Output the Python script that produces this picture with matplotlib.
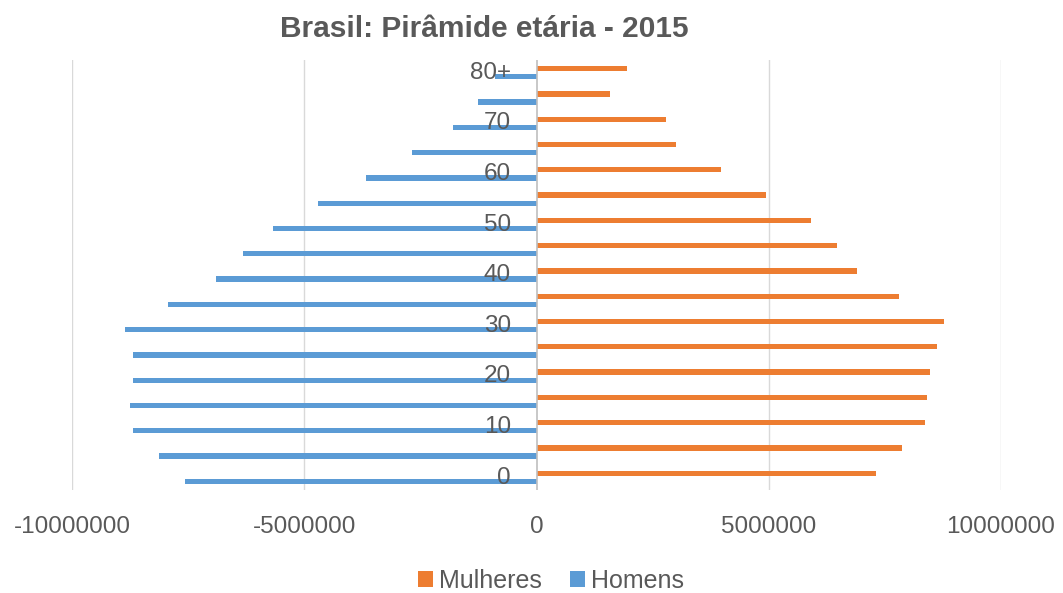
import matplotlib
matplotlib.use("Agg")
import matplotlib.pyplot as plt
import numpy as np

ages = ["0", "5", "10", "15", "20", "25", "30", "35", "40", "45", "50", "55", "60", "65", "70", "75", "80+"]
mulheres = [7.30e6, 7.86e6, 8.36e6, 8.40e6, 8.47e6, 8.62e6, 8.77e6, 7.80e6, 6.91e6, 6.48e6,
            5.92e6, 4.95e6, 3.97e6, 3.00e6, 2.79e6, 1.58e6, 1.94e6]
homens = [-7.56e6, -8.12e6, -8.68e6, -8.75e6, -8.68e6, -8.68e6, -8.86e6, -7.93e6, -6.91e6, -6.31e6,
          -5.68e6, -4.71e6, -3.67e6, -2.68e6, -1.79e6, -1.25e6, -0.89e6]
shown_labels = ["0", "10", "20", "30", "40", "50", "60", "70", "80+"]
xticks = [-10000000, -5000000, 0, 5000000, 10000000]

plt.rcParams['font.family'] = ['Liberation Sans', 'DejaVu Sans']
grey = "#595959"

fig = plt.figure(figsize=(10.63, 5.93), dpi=100)
ax = fig.add_axes([72/1063, 1-490/593, (1001-72)/1063, 430/593])

y = np.arange(len(ages))
ax.barh(y + 0.16, mulheres, height=0.21, color="#ED7D31", label="Mulheres", zorder=3)
ax.barh(y - 0.16, homens, height=0.21, color="#5B9BD5", label="Homens", zorder=3)

ax.set_xlim(-10000000, 10000000)
ax.set_ylim(-0.5, len(ages) - 0.5)
ax.set_xticks(xticks)
ax.set_xticklabels([str(v) for v in xticks], fontsize=17.5, color=grey)
ax.tick_params(axis='x', length=0, pad=19)
ax.set_yticks([])
for i, a in enumerate(ages):
    if a in shown_labels:
        ax.text(-0.55e6, i - 0.01, a, ha='right', va='center', fontsize=17.5, color=grey, zorder=5)

for v in xticks:
    if v != 0:
        ax.axvline(v, color="#d9d9d9", lw=1, zorder=0)
ax.axvline(0, color="#bfbfbf", lw=1.2, zorder=4)
for s in ax.spines.values():
    s.set_visible(False)

fig.text(484/1063, 1-29/593, "Brasil: Pirâmide etária - 2015", fontsize=21.5, fontweight='bold',
         color=grey, ha='center', va='center')
leg = fig.legend(loc='center', bbox_to_anchor=(551/1063, 1-581/593), ncol=2, frameon=False,
                 fontsize=18, handlelength=0.62, handleheight=0.62, handletextpad=0.25,
                 columnspacing=1.1, borderpad=0, borderaxespad=0)
for t in leg.get_texts():
    t.set_color(grey)

fig.savefig("out.png", dpi=100)
